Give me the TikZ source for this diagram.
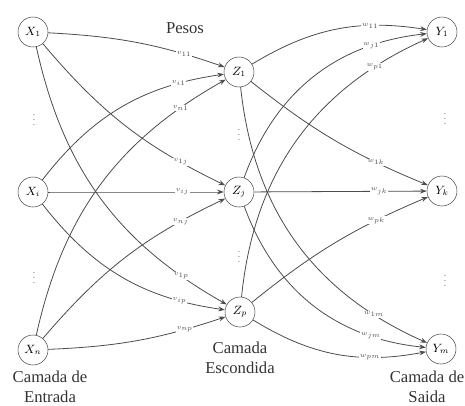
\documentclass[tikz,border=0pt]{standalone}
\usepackage{fontspec}
\setmainfont{Liberation Serif}
\usetikzlibrary{arrows.meta}
\tikzset{>={Stealth[length=5pt,width=3.6pt]}}
\tikzset{
  neuron/.style={draw=black!70, circle, minimum size=22.5pt, inner sep=0pt, fill=white, font=\small},
  peso/.style={fill=white, inner sep=0.5pt, font=\tiny},
  ligacao/.style={black!70, line width=0.6pt, ->},
  camada/.style={align=center, font=\fontsize{12.5}{15}\selectfont, black!80},
  pontos/.style={black!60, font=\scriptsize},
}

\begin{document}
\begin{tikzpicture}[x=0.75pt, y=-0.75pt]

  \useasboundingbox (0,0) rectangle (465,405);

  % input layer
  \node[neuron] (x1) at (33,32) {$X_1$};
  \node[neuron] (xi) at (33,192) {$X_i$};
  \node[neuron] (xn) at (33,350) {$X_n$};
  \node[pontos] (dx1) at (34,116) {$\vdots$};
  \node[pontos] (dx2) at (34,274) {$\vdots$};

  % hidden layer
  \node[neuron] (z1) at (239,72) {$Z_1$};
  \node[neuron] (zj) at (239,192) {$Z_j$};
  \node[neuron] (zp) at (240,312) {$Z_p$};
  \node[pontos] (dz1) at (239,131) {$\vdots$};
  \node[pontos] (dz2) at (239,253) {$\vdots$};

  % output layer
  \node[neuron] (y1) at (442,32) {$Y_1$};
  \node[neuron] (yk) at (442,191) {$Y_k$};
  \node[neuron] (ym) at (441,349) {$Y_m$};
  \node[pontos] (dy1) at (445,115) {$\vdots$};
  \node[pontos] (dy2) at (445,277) {$\vdots$};

  % weights v (input -> hidden)
  \foreach \a/\b/\ang/\p/\lab in {x1/z1/8/0.78/v_{11}, xi/z1/22/0.8/v_{i1}, xn/z1/24/0.85/v_{n1},
                                 x1/zj/-12/0.8/v_{1j}, xi/zj/0/0.78/v_{ij}, xn/zj/12/0.8/v_{nj},
                                 x1/zp/-24/0.85/v_{1p}, xi/zp/-22/0.8/v_{ip}, xn/zp/-8/0.78/v_{np}}
    \draw[ligacao] (\a) to[bend left=\ang] node[peso, pos=\p] {$\lab$} (\b);

  % weights w (hidden -> output)
  \foreach \a/\b/\ang/\p/\lab in {z1/y1/20/0.7/w_{11}, zj/y1/32/0.78/w_{j1}, zp/y1/30/0.83/w_{p1},
                                 z1/yk/-8/0.74/w_{1k}, zj/yk/0/0.74/w_{jk}, zp/yk/8/0.74/w_{pk},
                                 z1/ym/-30/0.83/w_{1m}, zj/ym/-32/0.78/w_{jm}, zp/ym/-21/0.7/w_{pm}}
    \draw[ligacao] (\a) to[bend left=\ang] node[peso, pos=\p] {$\lab$} (\b);

  % labels
  \node[camada] (pesos) at (185,28) {Pesos};
  \node[camada] (entrada) at (50,387) {Camada de\\Entrada};
  \node[camada] (escondida) at (240,358) {Camada\\Escondida};
  \node[camada] (saida) at (427,387) {Camada de\\Saida};

\end{tikzpicture}
\end{document}
